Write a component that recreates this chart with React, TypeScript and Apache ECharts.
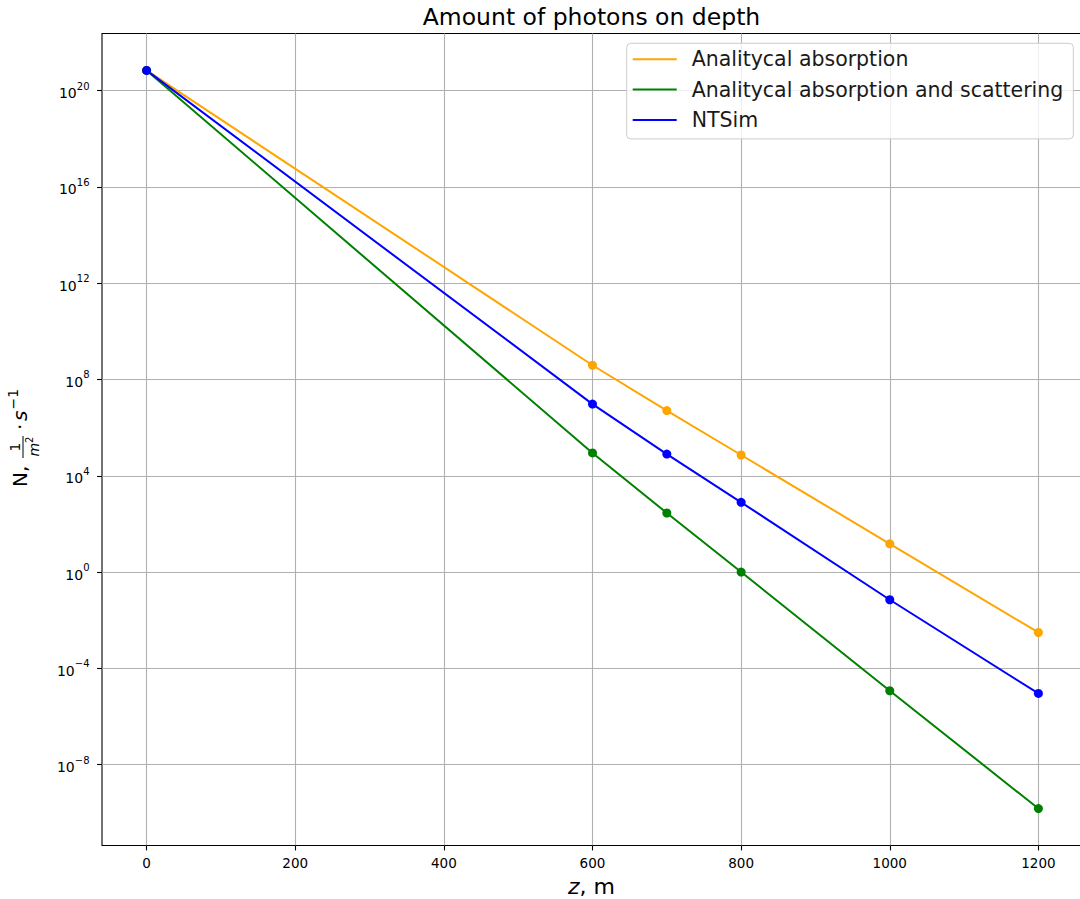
import React, { useEffect, useRef } from 'react';
import * as echarts from 'echarts';

const depths = [0, 600, 700, 800, 1000, 1200];
const absorption = [6.9e20, 3.9e8, 5.1e6, 7.3e4, 15, 3.1e-3];
const absorptionScattering = [6.9e20, 8.9e4, 285, 1.0, 1.18e-5, 1.5e-10];
const ntsim = [6.9e20, 9.5e6, 8.0e4, 790, 0.071, 9.1e-6];
const seriesNames = ['Analitycal absorption', 'Analitycal absorption and scattering', 'NTSim'];
const seriesColors = ['#FFA500', '#008000', '#0000FF'];
const xTicks = [0, 200, 400, 600, 800, 1000, 1200];
const yTickExponents = [-8, -4, 0, 4, 8, 12, 16, 20];

const FONT = 'DejaVu Sans';

export default function App() {
  const ref = useRef<HTMLDivElement>(null);
  useEffect(() => {
    if (!ref.current) return;
    const chart = echarts.init(ref.current, null, { renderer: 'svg' });
    const all = [absorption, absorptionScattering, ntsim];
    const logs = all.flat().map((v) => Math.log10(v));
    const lo = Math.min(...logs);
    const hi = Math.max(...logs);
    const pad = (hi - lo) * 0.05;
    const xLo = Math.min(...depths);
    const xHi = Math.max(...depths);
    const xPad = (xHi - xLo) * 0.05;

    const mkData = (arr: number[]) => arr.map((v, i) => [depths[i], Math.log10(v)]);
    const supText = (n: number) => (n < 0 ? '\u2212' + Math.abs(n) : String(n));

    chart.setOption({
      animation: false,
      grid: {
        left: 102,
        top: 33.5,
        width: 981,
        height: 812,
        show: true,
        borderColor: '#000',
        borderWidth: 1.1,
        backgroundColor: 'transparent',
        outerBoundsMode: 'none',
        containLabel: false,
      },
      xAxis: {
        type: 'value',
        min: xLo - xPad,
        max: xHi + xPad,
        axisLine: { show: false, onZero: false },
        axisTick: { show: true, length: 4.9, lineStyle: { color: '#000', width: 1.1 }, customValues: xTicks },
        axisLabel: {
          customValues: xTicks,
          margin: 10,
          fontSize: 13.5,
          fontFamily: FONT,
          color: '#000',
          formatter: (v: number) => String(Math.round(v)),
        },
        splitLine: { show: true, lineStyle: { color: '#b0b0b0', width: 1.1 } },
      },
      yAxis: {
        type: 'value',
        min: lo - pad,
        max: hi + pad,
        axisLine: { show: false, onZero: false },
        axisTick: {
          show: true,
          length: 4.9,
          lineStyle: { color: '#000', width: 1.1 },
          customValues: yTickExponents,
        },
        axisLabel: {
          customValues: yTickExponents,
          margin: 12.5,
          color: '#000',
          formatter: (v: number) => `{b|10}{s|${supText(Math.round(v))}}`,
          rich: {
            b: { fontSize: 14, fontFamily: FONT, color: '#000', lineHeight: 19, verticalAlign: 'bottom' },
            s: { fontSize: 10, fontFamily: FONT, color: '#000', lineHeight: 11, verticalAlign: 'top' },
          },
        },
        splitLine: { show: true, lineStyle: { color: '#b0b0b0', width: 1.1 } },
      },
      legend: {
        orient: 'vertical',
        left: 626.7,
        top: 43.3,
        padding: [4, 10, 7, 6],
        itemWidth: 44,
        itemHeight: 2,
        itemGap: 6.3,
        icon: 'rect',
        data: seriesNames,
        textStyle: {
          fontSize: 20.5,
          fontFamily: FONT,
          color: '#1a1a1a',
          lineHeight: 24,
          padding: [0, 0, 0, 10],
        },
        backgroundColor: 'rgba(255,255,255,0.8)',
        borderColor: '#cccccc',
        borderWidth: 1,
        borderRadius: 4,
      },
      series: all.map((arr, i) => ({
        type: 'line',
        name: seriesNames[i],
        data: mkData(arr),
        color: seriesColors[i],
        lineStyle: { width: 2, color: seriesColors[i] },
        itemStyle: { color: seriesColors[i] },
        symbol: 'circle',
        symbolSize: 9,
        showSymbol: true,
        emphasis: { disabled: true },
      })),
      graphic: [
        {
          type: 'text',
          x: 591.5,
          y: 16.9,
          style: {
            text: 'Amount of photons on depth',
            fontSize: 23.5,
            fontFamily: FONT,
            fill: '#000',
            textAlign: 'center',
            textVerticalAlign: 'middle',
          },
        },
        {
          type: 'text',
          x: 591.5,
          y: 886.4,
          style: {
            text: '{i|z}, m',
            fontSize: 22,
            fontFamily: FONT,
            fill: '#000',
            textAlign: 'center',
            textVerticalAlign: 'middle',
            rich: { i: { fontStyle: 'italic', fontSize: 22, fontFamily: FONT, fill: '#000' } },
          },
        },
        {
          type: 'group',
          x: 27,
          y: 487,
          rotation: Math.PI / 2,
          children: [
            { type: 'text', x: 0, y: -6.9, style: { text: 'N,', fontSize: 20, fontFamily: FONT, fill: '#000', textAlign: 'left', textVerticalAlign: 'middle' } },
            { type: 'text', x: 40, y: -11.8, style: { text: '1', fontSize: 14, fontFamily: FONT, fill: '#000', textAlign: 'center', textVerticalAlign: 'middle' } },
            { type: 'line', shape: { x1: 29, y1: -4, x2: 51, y2: -4 }, style: { stroke: '#000', lineWidth: 1 } },
            { type: 'text', x: 30.5, y: 7.2, style: { text: 'm', fontSize: 14, fontStyle: 'italic', fontFamily: FONT, fill: '#000', textAlign: 'left', textVerticalAlign: 'middle' } },
            { type: 'text', x: 44.1, y: 2.5, style: { text: '2', fontSize: 10, fontFamily: FONT, fill: '#000', textAlign: 'left', textVerticalAlign: 'middle' } },
            { type: 'text', x: 57, y: -6.9, style: { text: '\u00b7', fontSize: 20, fontFamily: FONT, fill: '#000', textAlign: 'left', textVerticalAlign: 'middle' } },
            { type: 'text', x: 66, y: -6.9, style: { text: 's', fontSize: 20, fontStyle: 'italic', fontFamily: FONT, fill: '#000', textAlign: 'left', textVerticalAlign: 'middle' } },
            { type: 'text', x: 77.5, y: -13.8, style: { text: '\u22121', fontSize: 14, fontFamily: FONT, fill: '#000', textAlign: 'left', textVerticalAlign: 'middle' } },
          ],
        },
      ],
    });
    return () => chart.dispose();
  }, []);
  return (
    <div
      ref={ref}
      style={{ position: 'absolute', left: 0, top: 0, width: 1080, height: 899, background: '#fff' }}
    />
  );
}
